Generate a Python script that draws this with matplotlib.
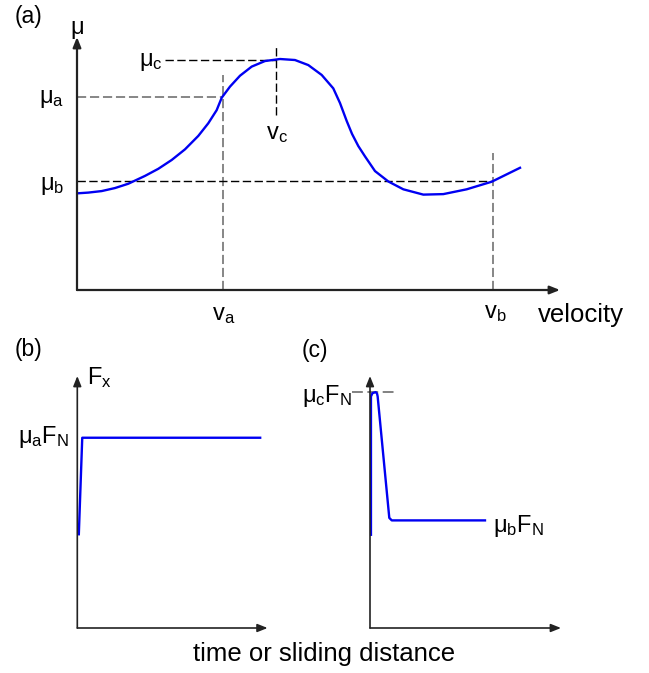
import matplotlib
matplotlib.use("Agg")
import matplotlib.pyplot as plt

plt.rcParams["font.family"] = ["Liberation Sans", "DejaVu Sans"]
plt.rcParams["mathtext.fontset"] = "custom"
plt.rcParams["mathtext.rm"] = "Liberation Sans"
plt.rcParams["mathtext.it"] = "Liberation Sans"

# (a) friction coefficient vs velocity
velocity = [0.0, 0.234, 0.511, 0.787, 1.062, 1.408, 1.683, 1.961, 2.236, 2.511, 2.718, 2.892,
            2.996, 3.168, 3.375, 3.617, 3.892, 4.203, 4.513, 4.789, 5.066, 5.306, 5.445, 5.584,
            5.694, 5.824, 5.963, 6.170, 6.445, 6.756, 7.170, 7.584, 8.068, 8.586, 9.172]
mu = [0.382, 0.385, 0.391, 0.403, 0.420, 0.451, 0.479, 0.514, 0.556, 0.609, 0.659, 0.711,
      0.760, 0.804, 0.847, 0.883, 0.905, 0.913, 0.909, 0.889, 0.850, 0.797, 0.739, 0.668,
      0.617, 0.569, 0.528, 0.470, 0.429, 0.398, 0.377, 0.379, 0.398, 0.428, 0.483]
v_a, v_b, v_c = 3.03, 8.61, 4.13
mu_a, mu_b, mu_c = 0.764, 0.431, 0.91

# (b) force vs time at v_a
t_b = [0.08, 0.26, 9.61]
f_b = [0.372, 0.755, 0.755]

# (c) force vs time at v_b
t_c = [0.05, 0.05, 0.13, 0.30, 0.37, 0.40, 1.01, 1.14, 6.02]
f_c = [0.37, 0.919, 0.932, 0.936, 0.930, 0.919, 0.437, 0.427, 0.427]
peak_c = 0.936

BLUE = "#0000f2"
FS = 17

fig = plt.figure(figsize=(6.49, 6.73), dpi=100)
W, H = 649, 673


def box(x0, x1, ytop, ybot):
    return [x0 / W, 1 - ybot / H, (x1 - x0) / W, (ybot - ytop) / H]


def arrows(ax, lw, col):
    st = dict(arrowstyle="-|>,head_length=0.5,head_width=0.2", lw=lw, color=col,
              mutation_scale=12, shrinkA=0, shrinkB=0)
    ax.annotate("", xy=(10, 0), xytext=(0, 0), arrowprops=st, annotation_clip=False)
    ax.annotate("", xy=(0, 1), xytext=(0, 0), arrowprops=st, annotation_clip=False)


def frame(rect):
    a = fig.add_axes(rect)
    a.set_xlim(0, 10)
    a.set_ylim(0, 1)
    a.axis("off")
    return a


dash = (0, (6, 2.5))

# ---- panel (a)
ax = frame(box(77, 560, 37, 290))
arrows(ax, 1.6, "#222222")
ax.plot([0, v_a], [mu_a, mu_a], color="#666666", lw=1.1, ls=dash)
ax.plot([v_a, v_a], [0, 0.85], color="#666666", lw=1.1, ls=dash)
ax.plot([0, v_b], [mu_b, mu_b], color="black", lw=1.0, ls=dash)
ax.plot([v_b, v_b], [0, 0.54], color="#666666", lw=1.1, ls=dash)
ax.plot([1.82, v_c], [mu_c, mu_c], color="black", lw=1.0, ls=dash)
ax.plot([v_c, v_c], [0.692, 0.968], color="black", lw=1.0, ls=dash)
ax.plot(velocity, mu, color=BLUE, lw=1.7, solid_joinstyle="round")

ax.text(0, 0.985, r"$\mu$", fontsize=FS, ha="center", va="bottom")
ax.text(1.76, mu_c - 0.01, r"$\mu_\mathrm{c}$", fontsize=FS, ha="right", va="center")
ax.text(-0.27, mu_a - 0.01, r"$\mu_\mathrm{a}$", fontsize=FS, ha="right", va="center")
ax.text(-0.27, mu_b - 0.02, r"$\mu_\mathrm{b}$", fontsize=FS, ha="right", va="center")
ax.text(v_c, 0.615, r"$\mathrm{v_c}$", fontsize=FS, ha="center", va="center")
ax.text(v_a, -0.1, r"$\mathrm{v_a}$", fontsize=FS, ha="center", va="center")
ax.text(v_b + 0.06, -0.09, r"$\mathrm{v_b}$", fontsize=FS, ha="center", va="center")
ax.text(9.54, -0.1, "velocity", fontsize=18.5, ha="left", va="center")
fig.text(29 / W, 1 - 17 / H, "(a)", fontsize=16.5, ha="center", va="center")

# ---- panel (b)
axb = frame(box(77.3, 267.6, 376, 628))
arrows(axb, 1.2, "#222222")
axb.plot(t_b, f_b, color=BLUE, lw=1.7)
axb.text(0.53, 0.995, r"$\mathrm{F_x}$", fontsize=FS, ha="left", va="center")
axb.text(-0.47, 0.757, r"$\mu_\mathrm{a}\mathrm{F_N}$", fontsize=FS, ha="right", va="center")
fig.text(29 / W, 1 - 349 / H, "(b)", fontsize=16.5, ha="center", va="center")

# ---- panel (c)
axc = frame(box(370, 561, 376, 628))
arrows(axc, 1.2, "#222222")
axc.plot([-0.96, 1.26], [peak_c, peak_c], color="#777777", lw=1.3, ls=dash, clip_on=False)
axc.plot(t_c, f_c, color=BLUE, lw=1.7, solid_joinstyle="round")
axc.text(-0.97, 0.919, r"$\mu_\mathrm{c}\mathrm{F_N}$", fontsize=FS, ha="right", va="center")
axc.text(6.46, 0.406, r"$\mu_\mathrm{b}\mathrm{F_N}$", fontsize=FS, ha="left", va="center")
fig.text(315 / W, 1 - 350 / H, "(c)", fontsize=16.5, ha="center", va="center")

fig.text(324 / W, 1 - 654 / H, "time or sliding distance", fontsize=18.5, ha="center",
         va="center")

fig.savefig("out.png", dpi=100)
